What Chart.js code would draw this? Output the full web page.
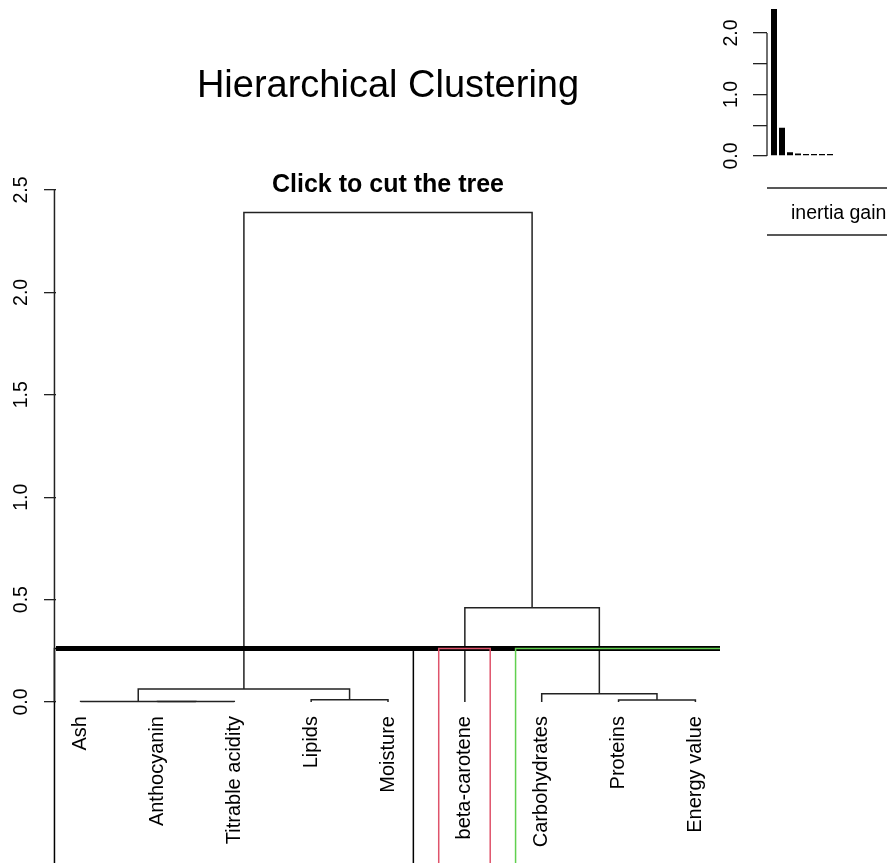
<!DOCTYPE html>
<html>
<head>
<meta charset="utf-8">
<title>Hierarchical Clustering</title>
<script src="https://cdn.jsdelivr.net/npm/chart.js@4.4.1/dist/chart.umd.min.js"></script>
<style>
  html, body { margin: 0; padding: 0; background: #fff; }
  #wrap { position: relative; width: 887px; height: 863px; overflow: hidden; }
  #wrap canvas { position: absolute; left: 0; top: 0; }
</style>
</head>
<body>
<div id="wrap">
  <canvas id="tree" width="887" height="863"></canvas>
  <canvas id="gain" width="887" height="863"></canvas>
</div>
<script>
// leaves in the order the dendrogram shows them
const leafLabels = ["Ash", "Anthocyanin", "Titrable acidity", "Lipids", "Moisture",
  "beta-carotene", "Carbohydrates", "Proteins", "Energy value"];

// hclust style merges: negative = leaf number (1-based), positive = earlier merge
const mergeLeft  = [-2, -1, -8, -4, -7, 2, -6, 6];
const mergeRight = [-3,  1, -9, -5,  3, 4,  5, 7];
const mergeHeight = [0.002, 0.003, 0.010, 0.011, 0.040, 0.063, 0.46, 2.39];

// the 3 clusters cut from the tree (sizes in leaf order)
const clusterSizes = [5, 1, 3];
const clusterColors = ["#000000", "#DF536B", "#61D04F"];

const yTicks = [0, 0.5, 1, 1.5, 2, 2.5];

// small barplot of inertia gains, top right
const inertiaGain = [2.39, 0.46, 0.063, 0.040, 0.011, 0.010, 0.003, 0.002];
const gainTicks = [0, 0.5, 1, 1.5, 2];
const gainLabels = [0, 1, 2]; // R drops the in between labels

const FONT = '"Liberation Sans", Arial, sans-serif';
const LINE = "#222";

// R pads the x range by 4% on each side
const nLeaf = leafLabels.length;
const xMin = 1 - 0.04 * (nLeaf - 1);
const xMax = nLeaf + 0.04 * (nLeaf - 1);
const yMin = -0.786;
const yMax = 2.5;

// build the U shapes of the tree
const nodeX = [];
const pos = (id) => id < 0 ? { x: -id, y: 0 } : { x: nodeX[id - 1], y: mergeHeight[id - 1] };
const treeSets = mergeLeft.map((l, i) => {
  const a = pos(l), b = pos(mergeRight[i]);
  const h = mergeHeight[i];
  nodeX.push((a.x + b.x) / 2);
  return {
    data: [{ x: a.x, y: a.y }, { x: a.x, y: h }, { x: b.x, y: h }, { x: b.x, y: b.y }],
    showLine: true, borderColor: LINE, borderWidth: 1.5, pointRadius: 0, order: 3
  };
});

// cut height = middle of the two merges around k clusters
const sortedH = [...mergeHeight].sort((a, b) => b - a);
const k = clusterSizes.length;
const cutHeight = (sortedH[k - 2] + sortedH[k - 1]) / 2;

const cutSet = {
  data: [{ x: xMin, y: cutHeight }, { x: xMax, y: cutHeight }],
  showLine: true, borderColor: "#000", borderWidth: 5, pointRadius: 0, order: 2
};

// rect.hclust boxes; points go right to left so chart.js keeps the edge left of xMin
let m = 0;
const rectSets = clusterSizes.map((s, i) => {
  const left = m + 0.66, right = m + s + 0.33;
  m += s;
  return {
    data: [{ x: right, y: yMin }, { x: right, y: cutHeight }, { x: left, y: cutHeight }, { x: left, y: yMin }],
    showLine: true, borderColor: clusterColors[i], borderWidth: 1.5, pointRadius: 0,
    order: 1, clip: { left: 3, right: 0, top: 0, bottom: 0 }
  };
});

const treeText = {
  id: "treeText",
  afterDatasetsDraw(chart) {
    const { ctx, chartArea } = chart;
    const x = chart.scales.x, y = chart.scales.y;
    ctx.save();
    ctx.fillStyle = "#000";
    ctx.textAlign = "center";
    ctx.textBaseline = "alphabetic";
    const cx = (chartArea.left + chartArea.right) / 2;
    ctx.font = "38px " + FONT;
    ctx.fillText("Hierarchical Clustering", cx, 97);
    ctx.font = "bold 25px " + FONT;
    ctx.fillText("Click to cut the tree", cx, 192);

    // y axis line, only over the tick range (sits on the first box edge)
    const ax = x.getPixelForValue(0.66);
    ctx.strokeStyle = LINE;
    ctx.lineWidth = 1.5;
    ctx.beginPath();
    ctx.moveTo(ax, y.getPixelForValue(0));
    ctx.lineTo(ax, y.getPixelForValue(yTicks[yTicks.length - 1]));
    ctx.stroke();

    ctx.font = "19.5px " + FONT;
    ctx.textBaseline = "middle";
    yTicks.forEach(v => {
      ctx.save();
      ctx.translate(22, y.getPixelForValue(v));
      ctx.rotate(-Math.PI / 2);
      ctx.textAlign = "center";
      ctx.fillText(v.toFixed(1), 0, 0);
      ctx.restore();
    });

    ctx.font = "20px " + FONT;
    leafLabels.forEach((lab, i) => {
      ctx.save();
      ctx.translate(x.getPixelForValue(i + 1), y.getPixelForValue(0) + 14);
      ctx.rotate(-Math.PI / 2);
      ctx.textAlign = "right";
      ctx.fillText(lab, 0, 0);
      ctx.restore();
    });
    ctx.restore();
  }
};

new Chart(document.getElementById("tree"), {
  type: "scatter",
  data: { datasets: [...treeSets, cutSet, ...rectSets] },
  options: {
    responsive: false,
    animation: false,
    layout: { padding: { left: 0, right: 167, top: 190, bottom: 0 } },
    plugins: { legend: { display: false }, tooltip: { enabled: false } },
    elements: { line: { tension: 0, borderJoinStyle: "miter" } },
    scales: {
      x: { type: "linear", min: xMin, max: xMax, display: false },
      y: {
        type: "linear", min: yMin, max: yMax,
        afterBuildTicks: s => { s.ticks = yTicks.map(v => ({ value: v })); },
        afterFit: s => { s.width = 56; },
        ticks: { display: false },
        grid: { display: true, drawOnChartArea: false, drawTicks: true, tickLength: 12, color: LINE, lineWidth: 1.3 },
        border: { display: false }
      }
    }
  },
  plugins: [treeText]
});

// ---- inertia gain inset ----
const gainText = {
  id: "gainText",
  afterDatasetsDraw(chart) {
    const { ctx, chartArea } = chart;
    const y = chart.scales.y;
    ctx.save();
    ctx.strokeStyle = LINE;
    ctx.lineWidth = 1.3;
    ctx.beginPath();
    ctx.moveTo(chartArea.left, y.getPixelForValue(0));
    ctx.lineTo(chartArea.left, y.getPixelForValue(gainTicks[gainTicks.length - 1]));
    ctx.stroke();

    ctx.fillStyle = "#000";
    ctx.font = "19.5px " + FONT;
    ctx.textBaseline = "middle";
    gainLabels.forEach(v => {
      ctx.save();
      ctx.translate(732, y.getPixelForValue(v));
      ctx.rotate(-Math.PI / 2);
      ctx.textAlign = "center";
      ctx.fillText(v.toFixed(1), 0, 0);
      ctx.restore();
    });

    // the cut off legend box under the bars
    ctx.beginPath();
    ctx.moveTo(767, 188); ctx.lineTo(887, 188);
    ctx.moveTo(767, 235); ctx.lineTo(887, 235);
    ctx.stroke();
    ctx.textAlign = "left";
    ctx.textBaseline = "alphabetic";
    ctx.fillText("inertia gain", 791, 219);
    ctx.restore();
  }
};

new Chart(document.getElementById("gain"), {
  type: "bar",
  data: {
    datasets: [{
      data: inertiaGain.map((v, i) => ({ x: i + 1, y: v })),
      backgroundColor: "#000", borderWidth: 0,
      barPercentage: 0.75, categoryPercentage: 1, minBarLength: 2
    }]
  },
  options: {
    responsive: false,
    animation: false,
    layout: { padding: { left: 0, right: 54, top: 2.25, bottom: 707 } },
    plugins: { legend: { display: false }, tooltip: { enabled: false } },
    scales: {
      x: { type: "linear", min: 0.125, max: 8.375, offset: false, display: false },
      y: {
        type: "linear", min: 0, max: 2.5,
        afterBuildTicks: s => { s.ticks = gainTicks.map(v => ({ value: v })); },
        afterFit: s => { s.width = 767; },
        ticks: { display: false },
        grid: { display: true, drawOnChartArea: false, drawTicks: true, tickLength: 14, color: LINE, lineWidth: 1.3 },
        border: { display: false }
      }
    }
  },
  plugins: [gainText]
});
</script>
</body>
</html>
